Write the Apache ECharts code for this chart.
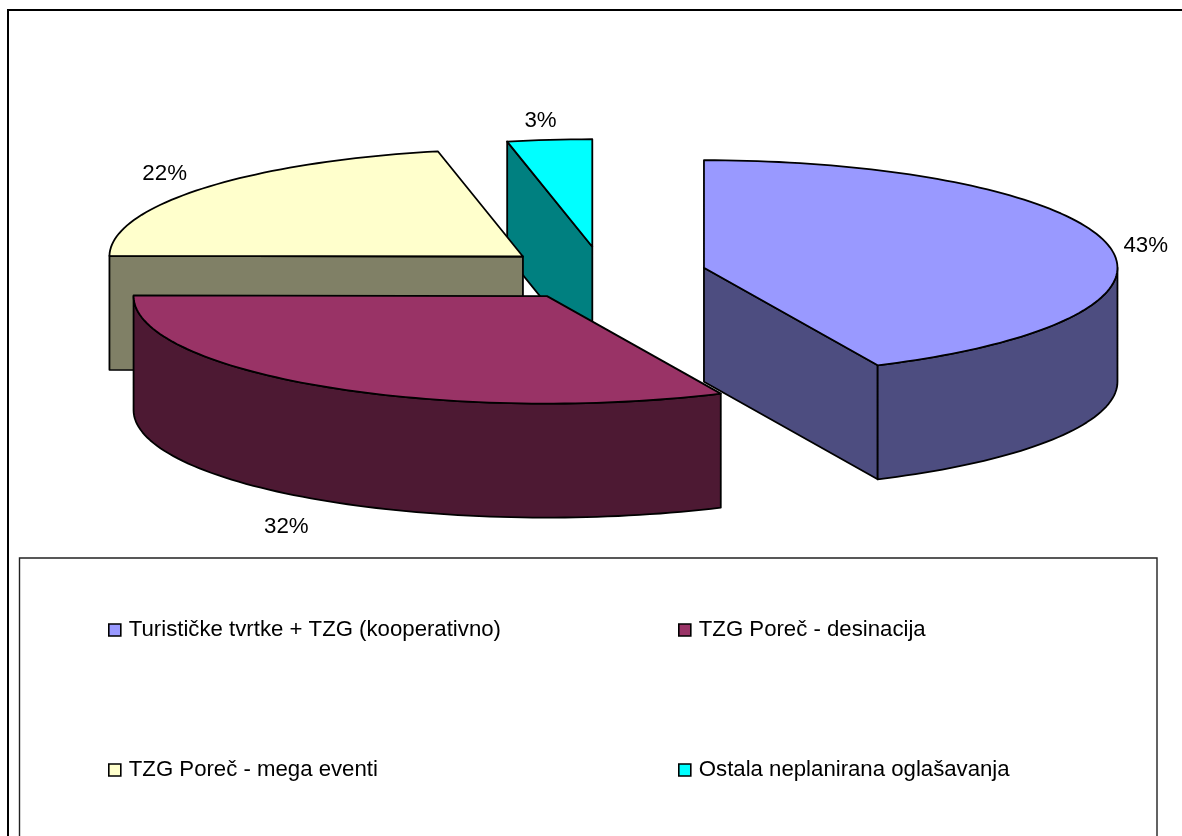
<!DOCTYPE html>
<html>
<head>
<meta charset="utf-8">
<style>html,body{margin:0;padding:0;background:#fff;overflow:hidden}#c{width:1182px;height:836px}</style>
<script src="https://cdn.jsdelivr.net/npm/echarts@6/dist/echarts.min.js"></script>
</head>
<body>
<div id="c"></div>
<script>
const categories = [
  'Turističke tvrtke + TZG (kooperativno)',
  'TZG Poreč - desinacija',
  'TZG Poreč - mega eventi',
  'Ostala neplanirana oglašavanja'
];
const shareValues = [43.1, 32.0, 21.6, 3.3];
const topColors = ['#9999FF', '#993366', '#FFFFCC', '#00FFFF'];
const sideColors = ['#4D4D80', '#4D1933', '#808066', '#008080'];

const FONT = '"Liberation Sans", Arial, sans-serif';
const pie = { cx: 603, cy: 273.5, rx: 413.5, ry: 107.5, depth: 114, explode: 0.25 };
// Label offset from the rim point at each slice's middle angle
const labelOffsets = [[38, 1], [-37, 26], [-38, -15], [-9, -19]];
const legendSpots = [[108, 619], [678, 619], [108, 759], [678, 759]];
const stackLevel = [3, 2, 1, 0]; // cyan at the back, then yellow, maroon, blue

const total = shareValues.reduce((a, b) => a + b, 0);
const rad = d => d * Math.PI / 180;
function sliceAngles(i) {
  let start = 0;
  for (let k = 0; k < i; k++) start += shareValues[k] / total * 360;
  return [start, start + shareValues[i] / total * 360];
}
function renderSlice(i) {
  const [a, b] = sliceAngles(i);
  const mid = (a + b) / 2;
  const ox = pie.cx + pie.explode * pie.rx * Math.sin(rad(mid));
  const oy = pie.cy - pie.explode * pie.ry * Math.cos(rad(mid));
  const rim = t => [ox + pie.rx * Math.sin(rad(t)), oy - pie.ry * Math.cos(rad(t))];
  const down = p => [p[0], p[1] + pie.depth];
  const arc = (s, e) => {
    const pts = [];
    const n = Math.max(2, Math.ceil((e - s) / 1.5));
    for (let j = 0; j <= n; j++) pts.push(rim(s + (e - s) * j / n));
    return pts;
  };
  const stroke = { stroke: '#000', lineWidth: 1.8, lineJoin: 'round' };
  const poly = (points, fill) => ({ type: 'polygon', shape: { points }, style: Object.assign({ fill }, stroke) });
  const children = [];
  const side = sideColors[i];
  const o = [ox, oy];
  if (Math.sin(rad(a)) < -1e-6) children.push(poly([o, rim(a), down(rim(a)), down(o)], side));
  if (Math.sin(rad(b)) > 1e-6) children.push(poly([o, rim(b), down(rim(b)), down(o)], side));
  const s = Math.max(a, 90), e = Math.min(b, 270);
  if (e > s) {
    const top = arc(s, e);
    children.push(poly(top.concat(top.map(down).reverse()), side));
  }
  children.push(poly([o].concat(arc(a, b)), topColors[i]));
  const lp = rim(mid);
  const front = Math.cos(rad(mid)) < -0.3;
  children.push({
    type: 'text',
    style: {
      text: Math.round(shareValues[i]) + '%',
      x: lp[0] + labelOffsets[i][0],
      y: lp[1] + (front ? pie.depth : 0) + labelOffsets[i][1],
      fill: '#000', font: '22.3px ' + FONT, align: 'center', verticalAlign: 'middle'
    }
  });
  return { type: 'group', children };
}

const option = {
  animation: false,
  backgroundColor: '#fff',
  graphic: [
    { type: 'line', z: 0, shape: { x1: 8, y1: 10, x2: 1182, y2: 10 }, style: { stroke: '#000', lineWidth: 2 } },
    { type: 'line', z: 0, shape: { x1: 8, y1: 9, x2: 8, y2: 836 }, style: { stroke: '#000', lineWidth: 2 } },
    { type: 'polyline', z: 0, shape: { points: [[19.5, 836], [19.5, 558], [1157, 558], [1157, 836]] }, style: { fill: null, stroke: '#222', lineWidth: 1.4 } }
  ],
  legend: categories.map((name, i) => ({
    data: [name],
    left: legendSpots[i][0],
    top: legendSpots[i][1],
    icon: 'rect',
    itemWidth: 12,
    itemHeight: 12,
    itemGap: 0,
    padding: 0,
    selectedMode: false,
    z: 10,
    itemStyle: { borderColor: '#000', borderWidth: 1.6 },
    textStyle: { color: '#000', fontFamily: FONT, fontSize: 22.2, padding: [0, 0, 0, 3] }
  })),
  series: categories.map((name, i) => ({
    type: 'custom',
    name,
    coordinateSystem: 'none',
    z: 2 + stackLevel[i],
    itemStyle: { color: topColors[i] },
    data: [shareValues[i]],
    silent: true,
    renderItem: () => renderSlice(i)
  }))
};
const chart = echarts.init(document.getElementById('c'), null, { renderer: 'canvas' });
chart.setOption(option);
</script>
</body>
</html>
